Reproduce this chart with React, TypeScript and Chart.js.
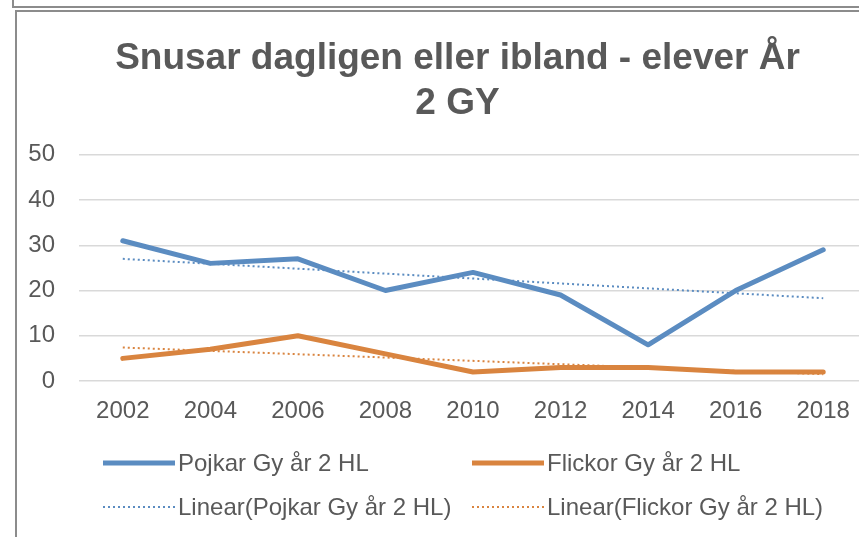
import React, { useEffect, useRef } from "react";
import { Chart, registerables } from "chart.js";

Chart.register(...registerables);

const years = ["2002", "2004", "2006", "2008", "2010", "2012", "2014", "2016", "2018"];
const pojkar = [31, 26, 27, 20, 24, 19, 8, 20, 29];
const flickor = [5, 7, 10, 6, 2, 3, 3, 2, 2];
const trendPojkar = [27.0, null, null, null, null, null, null, null, 18.3];
const trendFlickor = [7.4, null, null, null, null, null, null, null, 1.5];
const yMin = 0;
const yMax = 50;
const yStep = 10;
const titleLines = ["Snusar dagligen eller ibland - elever År", "2 GY"];
const seriesLabels = [
  "Pojkar Gy år 2 HL",
  "Flickor Gy år 2 HL",
  "Linear(Pojkar Gy år 2 HL)",
  "Linear(Flickor Gy år 2 HL)",
];

const BLUE = "#5b8cc1";
const ORANGE = "#d9843f";
const TEXT = "#595959";
const FONT = "'Liberation Sans', Arial, sans-serif";

// shift the title's centring box so it centres over the original (wider) frame
const titleShift = {
  id: "titleShift",
  afterLayout(chart: any) {
    if (chart.titleBlock) {
      chart.titleBlock.left = 48;
    }
  },
};

const gridLegend = {
  id: "gridLegend",
  afterDraw(chart: any) {
    const ctx = chart.ctx;
    const cols = [103, 472];
    const rows = [463, 507];
    const sampleLen = 72;
    chart.data.datasets.forEach((ds: any, i: number) => {
      const x = cols[i % 2];
      const y = rows[Math.floor(i / 2)];
      ctx.save();
      ctx.strokeStyle = ds.borderColor;
      ctx.lineWidth = ds.borderWidth;
      ctx.setLineDash(ds.borderDash || []);
      ctx.lineCap = "butt";
      ctx.beginPath();
      ctx.moveTo(x, y);
      ctx.lineTo(x + sampleLen, y);
      ctx.stroke();
      ctx.setLineDash([]);
      ctx.fillStyle = TEXT;
      ctx.font = `24px ${FONT}`;
      ctx.textBaseline = "middle";
      ctx.textAlign = "left";
      ctx.fillText(ds.label, x + sampleLen + 3, y + 1);
      ctx.restore();
    });
  },
};

export default function App() {
  const ref = useRef<HTMLCanvasElement | null>(null);

  useEffect(() => {
    if (!ref.current) return;
    const chart = new Chart(ref.current, {
      type: "line",
      data: {
        labels: years,
        datasets: [
          {
            label: seriesLabels[0],
            data: pojkar,
            borderColor: BLUE,
            backgroundColor: BLUE,
            borderWidth: 5,
            pointRadius: 0,
            tension: 0,
            borderJoinStyle: "round",
            borderCapStyle: "round",
            order: 1,
          },
          {
            label: seriesLabels[1],
            data: flickor,
            borderColor: ORANGE,
            backgroundColor: ORANGE,
            borderWidth: 5,
            pointRadius: 0,
            tension: 0,
            borderJoinStyle: "round",
            borderCapStyle: "round",
            order: 1,
          },
          {
            label: seriesLabels[2],
            data: trendPojkar,
            borderColor: BLUE,
            backgroundColor: BLUE,
            borderWidth: 2,
            borderDash: [2, 3],
            pointRadius: 0,
            spanGaps: true,
            order: 0,
          },
          {
            label: seriesLabels[3],
            data: trendFlickor,
            borderColor: ORANGE,
            backgroundColor: ORANGE,
            borderWidth: 2,
            borderDash: [2, 3],
            pointRadius: 0,
            spanGaps: true,
            order: 0,
          },
        ],
      },
      options: {
        responsive: false,
        animation: false,
        layout: { padding: { left: 0, right: 13, top: 37, bottom: 0 } },
        plugins: {
          legend: { display: false },
          tooltip: { enabled: false },
          title: {
            display: true,
            text: titleLines,
            color: TEXT,
            font: { family: FONT, size: 37, weight: "bold", lineHeight: 1.2 },
            padding: { top: 0, bottom: 29 },
          },
        },
        scales: {
          x: {
            offset: true,
            grid: { display: false, drawTicks: false },
            border: { display: false },
            ticks: {
              color: TEXT,
              font: { family: FONT, size: 24 },
              padding: 16,
              autoSkip: false,
              maxRotation: 0,
            },
            afterFit: (scale: any) => {
              scale.height = 156;
            },
          },
          y: {
            min: yMin,
            max: yMax,
            grid: { color: "#d9d9d9", lineWidth: 1.5, drawTicks: false },
            border: { display: false },
            ticks: {
              stepSize: yStep,
              color: TEXT,
              font: { family: FONT, size: 24 },
              padding: 24,
            },
            afterFit: (scale: any) => {
              scale.width = 79;
            },
          },
        },
      },
      plugins: [titleShift, gridLegend],
    });
    return () => chart.destroy();
  }, []);

  return (
    <div
      style={{
        position: "absolute",
        left: 0,
        top: 0,
        width: 859,
        height: 537,
        overflow: "hidden",
        background: "#fff",
      }}
    >
      <div
        style={{
          position: "absolute",
          left: 12,
          top: -10,
          width: 1000,
          height: 14,
          border: "2px solid #8c8c8c",
        }}
      />
      <div
        style={{
          position: "absolute",
          left: 15,
          top: 10,
          width: 1000,
          height: 700,
          border: "2px solid #8c8c8c",
        }}
      />
      <canvas
        ref={ref}
        width={880}
        height={537}
        style={{ position: "absolute", left: 0, top: 0, width: 880, height: 537 }}
      />
    </div>
  );
}
